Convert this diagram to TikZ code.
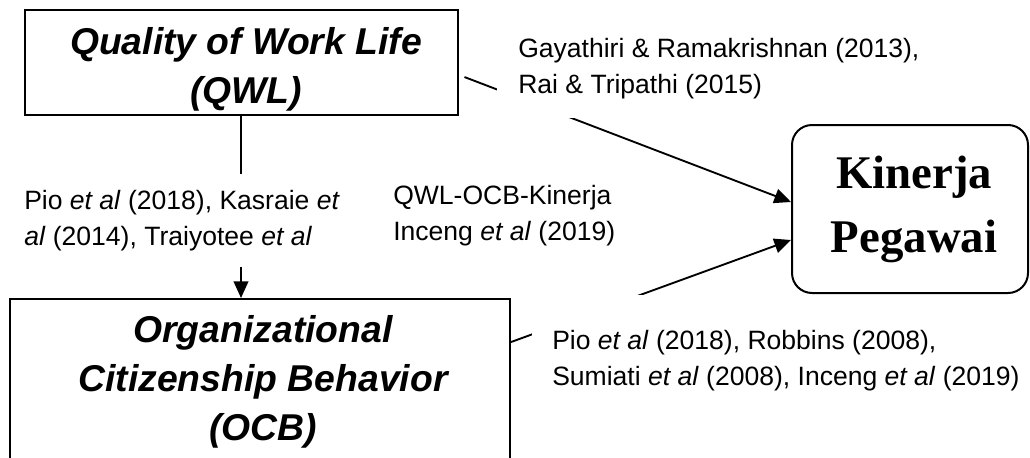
\documentclass[tikz,border=0pt]{standalone}
\usepackage{fontspec}
\setmainfont{Liberation Sans}
\newfontfamily\serifbold{Liberation Serif}
\usetikzlibrary{arrows.meta}
\begin{document}
\begin{tikzpicture}[x=0.75pt,y=-0.75pt,
  boxline/.style={draw=black, line width=1.5pt, inner sep=0pt},
  titletext/.style={font=\fontsize{28}{36.4}\selectfont\bfseries\itshape, align=center, inner sep=0pt, anchor=base},
  citetext/.style={font=\fontsize{19.9}{26.6}\selectfont, align=left, anchor=base west},
  whitebg/.style={fill=white},
  conn/.style={line width=1.4pt, -{Triangle[length=12.5pt,width=11pt]}},
]
\useasboundingbox (0,0) rectangle (1030,457);
\fill[white] (0,0) rectangle (1030,457);
\begin{scope}
\clip (0,0) rectangle (1030,457);
% boxes
\node[boxline, minimum width=324.75pt, minimum height=78.75pt] (qwl) at (241,62.5) {};
\node[boxline, minimum width=375pt, minimum height=135.75pt] (ocb) at (260,389.5) {};
\node[boxline, rounded corners=15pt, minimum width=177pt, minimum height=126pt,
  font=\fontsize{35.1}{48}\selectfont\serifbold\bfseries, align=center] (kin) at (910,209)
  {\hspace*{6pt}Kinerja\\\hspace*{6pt}Pegawai};
% titles (anchor = baseline of last line)
\node[titletext] (qwlt) at (246,103) {Quality of Work Life\\(QWL)};
\node[titletext] (ocbt) at (263,440) {Organizational\\Citizenship Behavior\\(OCB)};
% connectors
\draw[conn] (qwl.south) -- (qwl.south |- ocb.north);
\draw[conn] ([xshift=4.5pt,yshift=-10.9pt]qwl.east) -- ([yshift=5.25pt]kin.west);
\draw[conn] ([yshift=35.6pt]ocb.east) -- ([yshift=-23.25pt]kin.west);
% labels (anchor = baseline of last line)
\node[citetext, whitebg, inner xsep=15.75pt, inner ysep=14.5pt] (lab1) at (497,93)
  {Gayathiri \& Ramakrishnan (2013),\\Rai \& Tripathi (2015)};
\node[citetext, whitebg, inner xsep=12pt, inner ysep=12pt] (lab2) at (8,245)
  {Pio \textit{et al} (2018), Kasraie \textit{et}\\\textit{al} (2014), Traiyotee \textit{et al}};
\node[citetext, inner sep=0pt] (lab3) at (393,240)
  {QWL-OCB-Kinerja\\Inceng \textit{et al} (2019)};
\node[citetext, whitebg, inner xsep=15pt, inner ysep=26.8pt] (lab4) at (532,385)
  {Pio \textit{et al} (2018), Robbins (2008),\\Sumiati \textit{et al} (2008), Inceng \textit{et al} (2019)};
\end{scope}
\end{tikzpicture}
\end{document}
